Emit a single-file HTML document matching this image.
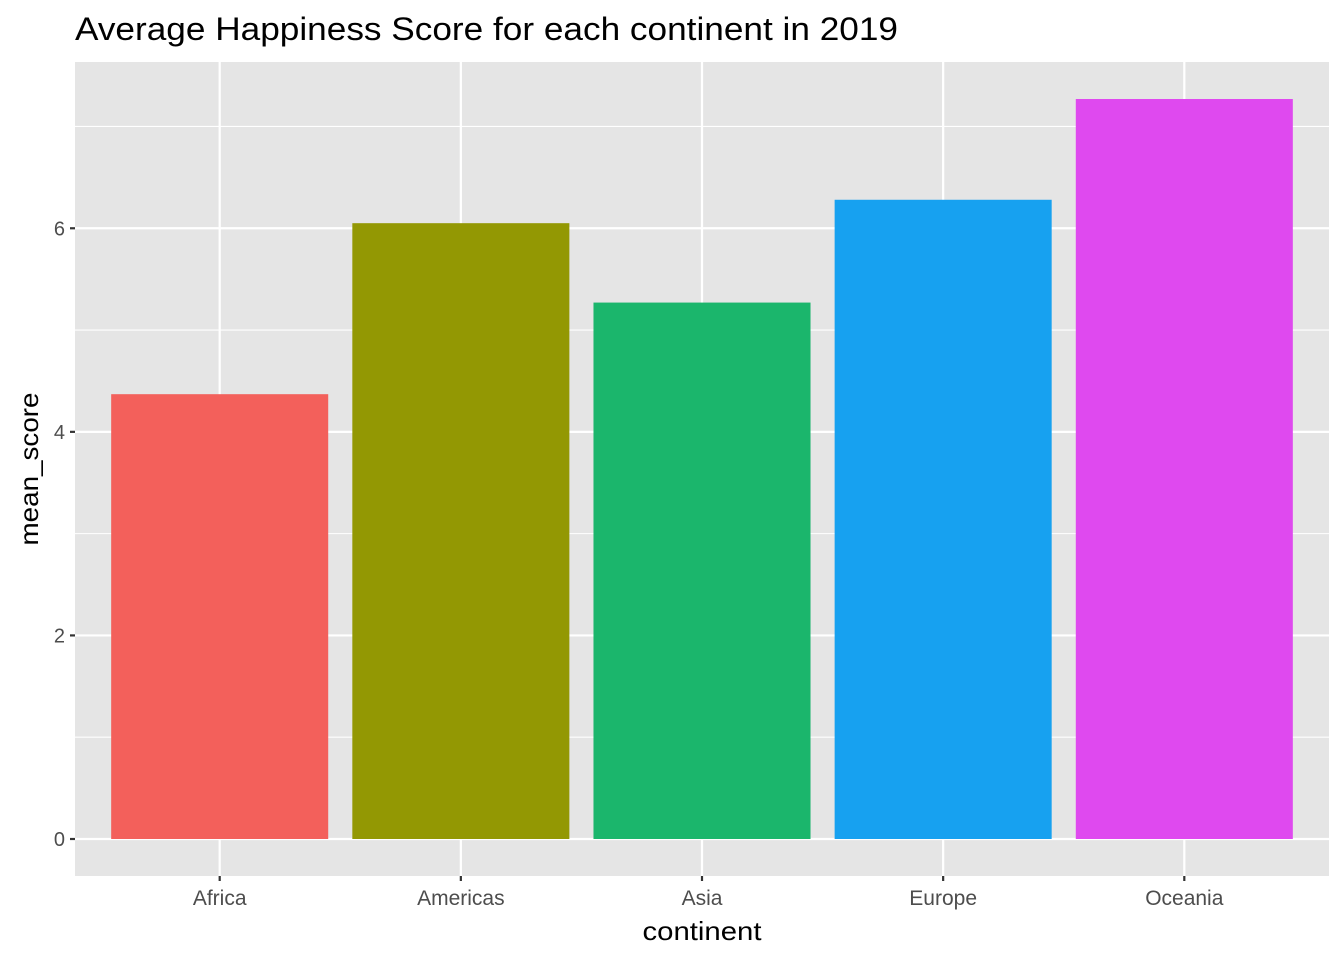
<!DOCTYPE html>
<html><head><meta charset="utf-8"><style>
body{margin:0;background:#fff;}
svg{display:block;font-family:"Liberation Sans",Arial,sans-serif;}
</style></head><body>
<svg id="chart" width="1344" height="960"></svg>
<script>
const categories=["Africa","Americas","Asia","Europe","Oceania"];
const values=[4.37,6.05,5.27,6.28,7.27];
const colors=["#F3605B","#939803","#1BB66C","#17A1F0","#DF49EF"];
const yTicks=[0,2,4,6];
const NS="http://www.w3.org/2000/svg";
const svg=document.getElementById('chart');
const L=75,R=1329,T=62,B=876;
const yMin=-0.3635,yMax=7.6335;
const y=v=>B-(v-yMin)/(yMax-yMin)*(B-T);
const step=(R-L)/(categories.length-1+1.2);
const x=i=>L+step*(i+0.6);
function el(tag,attrs,name,parent){const e=document.createElementNS(NS,tag);for(const k in attrs)e.setAttribute(k,attrs[k]);


(parent||svg).appendChild(e);return e;}
el('rect',{x:L,y:T,width:R-L,height:B-T,fill:'#E5E5E5'},'plot-panel');
for(let v=1;v<yMax;v+=2){el('line',{x1:L,x2:R,y1:y(v),y2:y(v),stroke:'#fff','stroke-width':1.1},'minor-gridline');}
yTicks.forEach(v=>{el('line',{x1:L,x2:R,y1:y(v),y2:y(v),stroke:'#fff','stroke-width':2.2},'major-gridline');
el('line',{x1:L-5,x2:L,y1:y(v),y2:y(v),stroke:'#333','stroke-width':2.2},'y-tick');
const t=el('text',{x:L-10,y:y(v)+7,'text-anchor':'end','font-size':20,fill:'#4D4D4D'},'y-tick-label');t.textContent=v;});
categories.forEach((c,i)=>{el('line',{x1:x(i),x2:x(i),y1:T,y2:B,stroke:'#fff','stroke-width':2.2},'x-gridline');});
categories.forEach((c,i)=>{const w=step*0.9;
el('rect',{x:x(i)-w/2,y:y(values[i]),width:w,height:y(0)-y(values[i]),fill:colors[i]},'bar-'+c.toLowerCase());
el('line',{x1:x(i),x2:x(i),y1:B,y2:B+5,stroke:'#333','stroke-width':2.2},'x-tick');
const t=el('text',{x:x(i),y:B+29,'text-anchor':'middle','font-size':21,fill:'#4D4D4D'},'x-tick-label');t.textContent=c;});
let t=el('text',{x:(L+R)/2,y:940,'text-anchor':'middle','font-size':26,fill:'#000',textLength:119,lengthAdjust:'spacingAndGlyphs'},'x-axis-title');t.textContent='continent';
t=el('text',{x:0,y:0,'text-anchor':'middle','font-size':26,fill:'#000',textLength:153,lengthAdjust:'spacingAndGlyphs',transform:`translate(38,${(T+B)/2}) rotate(-90)`},'y-axis-title');t.textContent='mean_score';
t=el('text',{x:75,y:40,'font-size':32,fill:'#000',textLength:823,lengthAdjust:'spacingAndGlyphs'},'chart-title');t.textContent='Average Happiness Score for each continent in 2019';
</script>
</body></html>
